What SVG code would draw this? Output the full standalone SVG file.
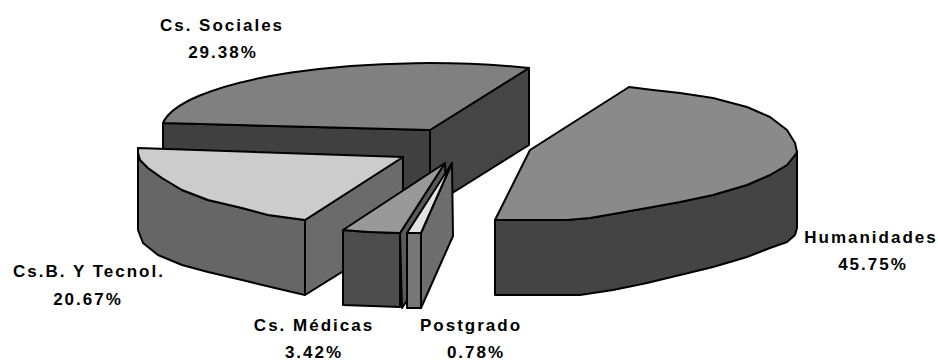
<svg xmlns="http://www.w3.org/2000/svg" width="938" height="361" viewBox="0 0 938 361">
<style>
.f{stroke:#000;stroke-width:2;stroke-linejoin:round}
.lbl{font-family:"Liberation Sans",Arial,sans-serif;font-weight:bold;font-size:17px;letter-spacing:2px;text-anchor:middle;fill:#000}
</style>
<rect width="938" height="361" fill="#fff"/>
<g id="sociales">
<path class="f" fill="#404040" d="M163,123 L430,130 L430,207 L163,200 Z"/>
<path class="f" fill="#454545" d="M430,130 L529,68 L529,145 L430,207 Z"/>
<path class="f" fill="#808080" d="M430,130 L163,123 A267,67 0 0 1 529,68 Z"/>
<text class="lbl" x="222" y="31">Cs. Sociales</text>
<text class="lbl" x="223" y="58">29.38%</text>
</g>
<g id="humanidades">
<path class="f" fill="#444444" d="M495,220 L567,220 L590,218 L613,214 L647,208 L680,202 L713,195 L747,185 L770,175 L787,165 L795,155 L797,152 L797,228 L795,235 L787,242 L770,248 L747,257 L713,267 L680,275 L647,283 L613,290 L580,295 L495,295 Z"/>
<path class="f" fill="#8a8a8a" d="M530,150 L629,87 L653,90 L680,93 L713,98 L747,107 L770,117 L787,130 L795,143 L797,152 L795,155 L787,165 L770,175 L747,185 L713,195 L680,202 L647,208 L613,214 L590,218 L567,220 L495,220 Z"/>
<text class="lbl" x="871" y="243">Humanidades</text>
<text class="lbl" x="873" y="270">45.75%</text>
</g>
<g id="csb-tecnol">
<path class="f" fill="#666666" d="M138,148 L138,153 L140,160 L148,168 L162,178 L182,190 L208,200 L242,208 L268,215 L305,220 L305,295 L275,288 L242,280 L208,272 L182,265 L158,255 L143,243 L138,230 Z"/>
<path class="f" fill="#6b6b6b" d="M305,220 L403,157 L403,234 L305,295 Z"/>
<path class="f" fill="#cccccc" d="M403,157 L138,148 L138,153 L140,160 L148,168 L162,178 L182,190 L208,200 L242,208 L268,215 L305,220 Z"/>
<text class="lbl" x="89" y="277">Cs.B. Y Tecnol.</text>
<text class="lbl" x="88" y="305">20.67%</text>
</g>
<g id="medicas">
<path class="f" fill="#5a5a5a" d="M400,233 L445,163 L447,240 L402,308 Z"/>
<path class="f" fill="#4d4d4d" d="M343,230 Q372,233 400,233 L400,307 Q372,306 343,305 Z"/>
<path class="f" fill="#999999" d="M343,230 L445,163 L400,233 Q372,233 343,230 Z"/>
<text class="lbl" x="314" y="331">Cs. Médicas</text>
<text class="lbl" x="314" y="358">3.42%</text>
</g>
<g id="postgrado">
<path class="f" fill="#6e6e6e" d="M421,233 L452,163 L453,236 L421,308 Z"/>
<path class="f" fill="#777777" d="M407,233 L421,233 L421,308 L407,308 Z"/>
<path class="f" fill="#e3e3e3" d="M407,233 L452,163 L421,233 Z"/>
<text class="lbl" x="471" y="331">Postgrado</text>
<text class="lbl" x="476" y="358">0.78%</text>
</g>
</svg>
